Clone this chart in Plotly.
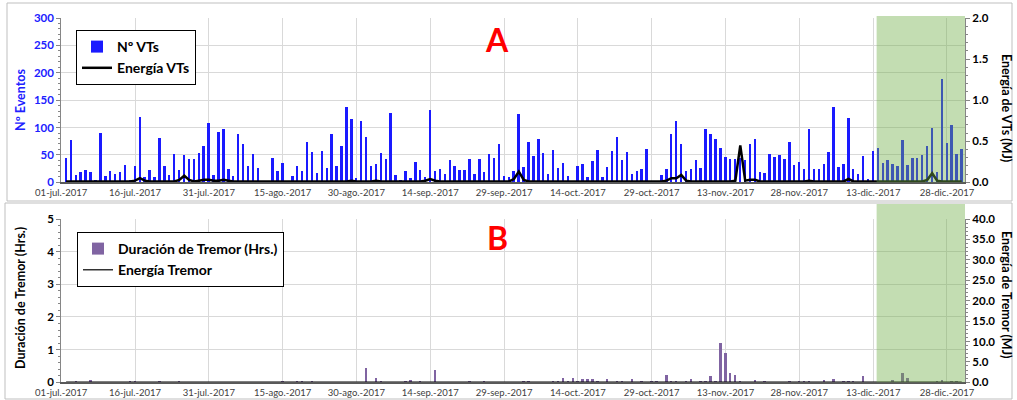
import pandas as pd
import plotly.graph_objects as go

# ---------------- data (daily, 02-jul-2017 .. 31-dic-2017) ----------------
fechas = pd.date_range("2017-07-02", "2017-12-31", freq="D")

num_vts = [
    45, 78, 14, 19, 23, 19, 4, 90, 12, 21, 15, 19, 32, 4, 29,
    120, 10, 23, 10, 80, 30, 13, 51, 22, 50, 43, 42, 54, 67, 108,
    13, 91, 97, 25, 11, 89, 70, 29, 51, 26, 0, 0, 45, 21, 36,
    0, 12, 30, 20, 73, 56, 17, 58, 26, 88, 30, 66, 137, 116, 8,
    112, 82, 30, 34, 54, 43, 126, 14, 4, 21, 7, 37, 23, 10, 132,
    20, 24, 16, 40, 30, 23, 23, 43, 15, 42, 19, 51, 45, 70, 12,
    9, 21, 125, 28, 74, 48, 79, 54, 15, 59, 26, 36, 12, 0, 29,
    33, 10, 38, 59, 9, 28, 58, 83, 41, 55, 16, 21, 24, 60, 0,
    0, 13, 24, 88, 112, 70, 21, 24, 40, 27, 98, 88, 79, 63, 46,
    43, 43, 45, 40, 70, 79, 19, 17, 52, 47, 49, 43, 73, 31, 37,
    24, 98, 25, 25, 34, 56, 138, 28, 34, 117, 25, 16, 48, 6, 58,
    63, 36, 40, 34, 30, 78, 31, 45, 45, 50, 66, 99, 19, 188, 72,
    104, 52, 60,
]

energia_vts = [
    0.01, 0.01, 0.01, 0.01, 0.01, 0.01, 0.01, 0.01, 0.01, 0.01, 0.01, 0.01, 0.01, 0.01, 0.02,
    0.05, 0.02, 0.01, 0.01, 0.01, 0.01, 0.01, 0.01, 0.03, 0.08, 0.03, 0.01, 0.02, 0.03, 0.03,
    0.02, 0.02, 0.03, 0.02, 0.01, 0.01, 0.01, 0.01, 0.01, 0.01, 0.01, 0.01, 0.01, 0.01, 0.01,
    0.01, 0.01, 0.01, 0.01, 0.01, 0.01, 0.01, 0.01, 0.01, 0.01, 0.01, 0.01, 0.01, 0.02, 0.01,
    0.01, 0.01, 0.01, 0.02, 0.01, 0.01, 0.01, 0.01, 0.01, 0.01, 0.01, 0.01, 0.01, 0.02, 0.04,
    0.02, 0.01, 0.01, 0.01, 0.01, 0.01, 0.01, 0.01, 0.01, 0.01, 0.01, 0.01, 0.01, 0.01, 0.01,
    0.01, 0.04, 0.13, 0.03, 0.01, 0.01, 0.01, 0.01, 0.01, 0.01, 0.01, 0.01, 0.01, 0.01, 0.01,
    0.01, 0.01, 0.01, 0.01, 0.01, 0.01, 0.01, 0.01, 0.01, 0.01, 0.01, 0.01, 0.01, 0.01, 0.01,
    0.01, 0.01, 0.02, 0.05, 0.05, 0.09, 0.02, 0.01, 0.01, 0.01, 0.01, 0.01, 0.01, 0.01, 0.01,
    0.01, 0.02, 0.45, 0.02, 0.03, 0.03, 0.01, 0.01, 0.01, 0.01, 0.01, 0.01, 0.01, 0.01, 0.01,
    0.01, 0.02, 0.01, 0.01, 0.01, 0.01, 0.01, 0.01, 0.01, 0.04, 0.01, 0.01, 0.01, 0.01, 0.01,
    0.01, 0.01, 0.01, 0.01, 0.01, 0.01, 0.01, 0.01, 0.01, 0.01, 0.03, 0.11, 0.02, 0.01, 0.01,
    0.01, 0.01, 0.01,
]

duracion_tremor = [
    0, 0, 0.05, 0, 0, 0.08, 0, 0, 0, 0, 0, 0, 0, 0.01, 0.01,
    0, 0, 0, 0, 0.01, 0, 0, 0, 0.01, 0, 0, 0, 0, 0, 0,
    0, 0, 0, 0, 0, 0, 0, 0, 0, 0, 0, 0, 0, 0, 0.01,
    0, 0, 0.01, 0.01, 0, 0.03, 0, 0, 0, 0, 0, 0, 0, 0, 0,
    0, 0.43, 0, 0.13, 0.05, 0, 0, 0, 0, 0.01, 0.06, 0, 0.04, 0, 0,
    0.37, 0, 0, 0, 0, 0, 0, 0.03, 0, 0, 0.03, 0, 0, 0, 0,
    0, 0, 0, 0.03, 0.03, 0, 0, 0, 0, 0.04, 0.05, 0.12, 0.04, 0.14, 0.02,
    0.09, 0.09, 0.09, 0.04, 0, 0.09, 0, 0.03, 0.03, 0, 0.1, 0, 0.03, 0, 0.04,
    0.04, 0, 0.22, 0.05, 0.03, 0, 0.04, 0.1, 0, 0.03, 0.05, 0.2, 0.02, 1.2, 0.89,
    0.3, 0.23, 0.02, 0, 0, 0.07, 0, 0.04, 0, 0, 0, 0, 0.01, 0, 0.04,
    0.05, 0.03, 0, 0, 0.06, 0, 0.1, 0, 0.05, 0.05, 0.05, 0, 0.2, 0, 0,
    0, 0, 0, 0.06, 0, 0.3, 0.14, 0, 0, 0, 0, 0, 0.03, 0.07, 0,
    0.03, 0.02, 0,
]

energia_tremor = [
    0.05, 0.05, 0.05, 0.05, 0.05, 0.05, 0.05, 0.05, 0.05, 0.05, 0.05, 0.05, 0.05, 0.05, 0.05,
    0.05, 0.05, 0.05, 0.05, 0.05, 0.05, 0.05, 0.05, 0.05, 0.05, 0.05, 0.05, 0.05, 0.05, 0.05,
    0.05, 0.05, 0.05, 0.05, 0.05, 0.05, 0.05, 0.05, 0.05, 0.05, 0.05, 0.05, 0.05, 0.05, 0.05,
    0.05, 0.05, 0.05, 0.05, 0.05, 0.05, 0.05, 0.05, 0.05, 0.05, 0.05, 0.05, 0.05, 0.05, 0.05,
    0.05, 0.1, 0.05, 0.05, 0.05, 0.05, 0.05, 0.05, 0.05, 0.05, 0.05, 0.05, 0.05, 0.05, 0.05,
    0.08, 0.05, 0.05, 0.05, 0.05, 0.05, 0.05, 0.05, 0.05, 0.05, 0.05, 0.05, 0.05, 0.05, 0.05,
    0.05, 0.05, 0.05, 0.05, 0.05, 0.05, 0.05, 0.05, 0.05, 0.05, 0.05, 0.05, 0.05, 0.05, 0.05,
    0.05, 0.05, 0.05, 0.05, 0.05, 0.05, 0.05, 0.05, 0.05, 0.05, 0.05, 0.05, 0.05, 0.05, 0.05,
    0.05, 0.05, 0.05, 0.05, 0.05, 0.05, 0.05, 0.05, 0.05, 0.05, 0.05, 0.05, 0.05, 0.2, 0.15,
    0.05, 0.05, 0.05, 0.05, 0.05, 0.05, 0.05, 0.05, 0.05, 0.05, 0.05, 0.05, 0.05, 0.05, 0.05,
    0.05, 0.05, 0.05, 0.05, 0.05, 0.05, 0.05, 0.05, 0.05, 0.05, 0.05, 0.05, 0.05, 0.05, 0.05,
    0.05, 0.05, 0.05, 0.05, 0.05, 0.05, 0.05, 0.05, 0.05, 0.05, 0.05, 0.05, 0.05, 0.05, 0.05,
    0.05, 0.05, 0.05,
]

tick_fechas = ["2017-07-01", "2017-07-16", "2017-07-31", "2017-08-15", "2017-08-30",
               "2017-09-14", "2017-09-29", "2017-10-14", "2017-10-29", "2017-11-13",
               "2017-11-28", "2017-12-13", "2017-12-28"]
tick_textos = ["01-jul.-2017", "16-jul.-2017", "31-jul.-2017", "15-ago.-2017", "30-ago.-2017",
               "14-sep.-2017", "29-sep.-2017", "14-oct.-2017", "29-oct.-2017", "13-nov.-2017",
               "28-nov.-2017", "13-dic.-2017", "28-dic.-2017"]

rango_x = ["2017-07-01", "2017-12-31 16:00"]
zona_verde = ["2017-12-13 17:00", "2017-12-31 16:00"]

# ---------------- figure ----------------
FONT = "Lato, 'Open Sans', sans-serif"
W, H = 1017, 400
DAY_MS = 86400000

fig = go.Figure()
fig.add_trace(go.Bar(x=fechas, y=num_vts, name="Nº VTs", marker=dict(color="#1a1aff", line=dict(width=0)),
                     width=0.5 * DAY_MS, xaxis="x", yaxis="y", legend="legend"))
fig.add_trace(go.Scatter(x=fechas, y=energia_vts, name="Energía VTs", mode="lines",
                         line=dict(color="black", width=2.5), xaxis="x", yaxis="y2", legend="legend"))
fig.add_trace(go.Bar(x=fechas, y=duracion_tremor, name="Duración de Tremor (Hrs.)",
                     marker=dict(color="#8064a2", line=dict(width=0)),
                     width=0.5 * DAY_MS, xaxis="x2", yaxis="y3", legend="legend2"))
fig.add_trace(go.Scatter(x=fechas, y=energia_tremor, name="Energía Tremor", mode="lines",
                         line=dict(color="black", width=1.2), xaxis="x2", yaxis="y4", legend="legend2"))

xdom = [61.2 / W, 965 / W]
ydomA = [1 - 182.3 / H, 1 - 18 / H]
ydomB = [1 - 382.3 / H, 1 - 219 / H]

xcommon = dict(type="date", range=rango_x, tickmode="array", tickvals=tick_fechas, ticktext=tick_textos,
               tickfont=dict(family=FONT, size=9.5, color="#404040"), showgrid=True, gridcolor="#d9d9d9",
               gridwidth=1, showline=True, linecolor="#595959", linewidth=2, ticks="", zeroline=False,
               automargin=False)
ycommon = dict(showline=True, linecolor="#868686", linewidth=1, ticks="outside", ticklen=4,
               tickcolor="#868686", zeroline=False, automargin=False)

fig.update_layout(
    width=W, height=H, margin=dict(l=0, r=0, t=0, b=0, autoexpand=False),
    paper_bgcolor="white", plot_bgcolor="white", bargap=0,
    xaxis=dict(domain=xdom, anchor="y", **xcommon),
    xaxis2=dict(domain=xdom, anchor="y3", matches="x", **xcommon),
    yaxis=dict(domain=ydomA, range=[0, 300], dtick=50, showgrid=True, gridcolor="#d9d9d9",
               tickfont=dict(family=FONT, size=11.5, color="#2020ff", weight="bold"),
               minor=dict(dtick=10, ticklen=2, ticks="outside", tickcolor="#868686", showgrid=False),
               **ycommon),
    yaxis2=dict(overlaying="y", side="right", anchor="x", range=[0, 2], dtick=0.5, tickformat=".1f",
                showgrid=False, tickfont=dict(family=FONT, size=11.5, color="black", weight="bold"),
                minor=dict(dtick=0.1, ticklen=2, ticks="outside", tickcolor="#868686", showgrid=False),
                **ycommon),
    yaxis3=dict(domain=ydomB, anchor="x2", range=[0, 5], dtick=1, showgrid=True, gridcolor="#d9d9d9",
                tickfont=dict(family=FONT, size=11.5, color="black", weight="bold"),
                minor=dict(dtick=0.2, ticklen=2, ticks="outside", tickcolor="#868686", showgrid=False),
                **ycommon),
    yaxis4=dict(overlaying="y3", side="right", anchor="x2", range=[0, 40], dtick=5, tickformat=".1f",
                showgrid=False, tickfont=dict(family=FONT, size=11.5, color="black", weight="bold"),
                minor=dict(dtick=1, ticklen=2, ticks="outside", tickcolor="#868686", showgrid=False),
                **ycommon),
    legend=dict(x=76 / W, y=1 - 30 / H, xanchor="left", yanchor="top", bgcolor="white",
                bordercolor="black", borderwidth=1, itemwidth=30, tracegroupgap=0,
                font=dict(family=FONT, size=14, color="black", weight="bold")),
    legend2=dict(x=77 / W, y=1 - 232 / H, xanchor="left", yanchor="top", bgcolor="white",
                 bordercolor="black", borderwidth=1, itemwidth=30, tracegroupgap=0,
                 font=dict(family=FONT, size=14, color="black", weight="bold")),
)

# green highlighted period
for y0, y1 in [(1 - 182.3 / H, 1 - 16 / H), (1 - 382.3 / H, 1 - 204 / H)]:
    fig.add_shape(type="rect", xref="x", yref="paper", x0=zona_verde[0], x1=zona_verde[1],
                  y0=y0, y1=y1, fillcolor="rgba(112,173,71,0.42)", line=dict(width=0), layer="above")

# panel frames
fig.add_shape(type="rect", xref="paper", yref="paper", x0=7 / W, x1=1012 / W, y0=1 - 201 / H, y1=1 - 3 / H,
              line=dict(color="#bfbfbf", width=1), layer="below")
fig.add_shape(type="rect", xref="paper", yref="paper", x0=5 / W, x1=1012 / W, y0=1 - 399 / H, y1=1 - 203 / H,
              line=dict(color="#bfbfbf", width=1), layer="below")

ann = [
    dict(text="Nº Eventos", x=20 / W, y=1 - 100 / H, textangle=-90,
         font=dict(family=FONT, size=12.5, color="#2020ff", weight="bold")),
    dict(text="Energía de VTs (MJ)", x=1007 / W, y=1 - 108 / H, textangle=90,
         font=dict(family=FONT, size=12.5, color="black", weight="bold")),
    dict(text="Duración de Tremor (Hrs.)", x=20 / W, y=1 - 298 / H, textangle=-90,
         font=dict(family=FONT, size=12.5, color="black", weight="bold")),
    dict(text="Energía de Tremor (MJ)", x=1007 / W, y=1 - 294 / H, textangle=90,
         font=dict(family=FONT, size=12.5, color="black", weight="bold")),
    dict(text="A", x=497 / W, y=1 - 40 / H, font=dict(family=FONT, size=32, color="#ff0000", weight="bold")),
    dict(text="B", x=497 / W, y=1 - 237 / H, font=dict(family=FONT, size=32, color="#ff0000", weight="bold")),
]
for a in ann:
    fig.add_annotation(xref="paper", yref="paper", showarrow=False, xanchor="center", yanchor="middle", **a)

fig.write_html("out.html", config={"displayModeBar": False},
               post_script="document.body.style.margin='0';document.body.style.padding='0';"
                           "document.body.style.overflow='hidden';")
